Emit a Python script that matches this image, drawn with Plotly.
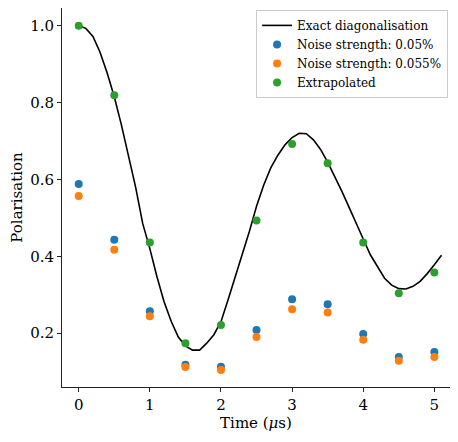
import plotly.graph_objects as go

# Exact diagonalisation curve
t_exact = [round(0.1 * i, 1) for i in range(52)]
p_exact = [1.000, 0.993, 0.972, 0.931, 0.877, 0.815, 0.742, 0.662, 0.580, 0.485,
           0.420, 0.347, 0.282, 0.231, 0.190, 0.167, 0.156, 0.156, 0.174, 0.196,
           0.230, 0.287, 0.345, 0.405, 0.465, 0.530, 0.585, 0.630, 0.663, 0.690,
           0.709, 0.720, 0.719, 0.703, 0.678, 0.645, 0.609, 0.569, 0.528, 0.484,
           0.445, 0.404, 0.372, 0.343, 0.325, 0.316, 0.315, 0.322, 0.335, 0.355,
           0.378, 0.403]

# Sampled times
t_pts = [0, 0.5, 1, 1.5, 2, 2.5, 3, 3.5, 4, 4.5, 5]
noise_005 = [0.588, 0.443, 0.257, 0.118, 0.113, 0.208, 0.288, 0.275, 0.198, 0.138, 0.151]
noise_0055 = [0.557, 0.417, 0.244, 0.112, 0.104, 0.190, 0.262, 0.254, 0.183, 0.128, 0.138]
extrapolated = [1.000, 0.819, 0.436, 0.174, 0.221, 0.493, 0.692, 0.642, 0.436, 0.304, 0.358]

x_ticks = [0, 1, 2, 3, 4, 5]
y_ticks = [0.2, 0.4, 0.6, 0.8, 1.0]

FONT = "DejaVu Serif"

fig = go.Figure()
fig.add_trace(go.Scatter(x=t_exact, y=p_exact, mode="lines",
                         line=dict(color="black", width=1.6),
                         name="Exact diagonalisation"))
fig.add_trace(go.Scatter(x=t_pts, y=noise_005, mode="markers",
                         marker=dict(color="#1f77b4", size=8),
                         name="Noise strength: 0.05%"))
fig.add_trace(go.Scatter(x=t_pts, y=noise_0055, mode="markers",
                         marker=dict(color="#ff7f0e", size=8),
                         name="Noise strength: 0.055%"))
fig.add_trace(go.Scatter(x=t_pts, y=extrapolated, mode="markers",
                         marker=dict(color="#2ca02c", size=8),
                         name="Extrapolated"))

axis_common = dict(showgrid=False, zeroline=False, showline=True, linecolor="#222",
                   linewidth=1, mirror=True, ticks="outside", ticklen=4,
                   tickcolor="#222", tickfont=dict(family=FONT, size=15, color="black"))

fig.update_layout(
    width=450, height=426,
    margin=dict(l=54, r=8, t=0, b=47),
    paper_bgcolor="white", plot_bgcolor="white",
    font=dict(family=FONT, color="black"),
    showlegend=True,
    legend=dict(x=0.995, y=0.995, xanchor="right", yanchor="top",
                bgcolor="rgba(255,255,255,0.8)", bordercolor="#ccc", borderwidth=1,
                font=dict(family=FONT, size=12, color="black"),
                tracegroupgap=0, itemwidth=30),
    xaxis=dict(range=[-0.235, 5.22], tickvals=x_ticks,
               ticktext=[str(v) for v in x_ticks],
               title=dict(text="Time (<i>μ</i>s)", font=dict(family=FONT, size=15),
                          standoff=1),
               **axis_common),
    yaxis=dict(range=[0.060, 1.046], tickvals=y_ticks,
               ticktext=[f"{v:.1f}" for v in y_ticks],
               title=dict(text="Polarisation", font=dict(family=FONT, size=15),
                          standoff=8),
               **axis_common),
)

fig.write_html("out.html")
